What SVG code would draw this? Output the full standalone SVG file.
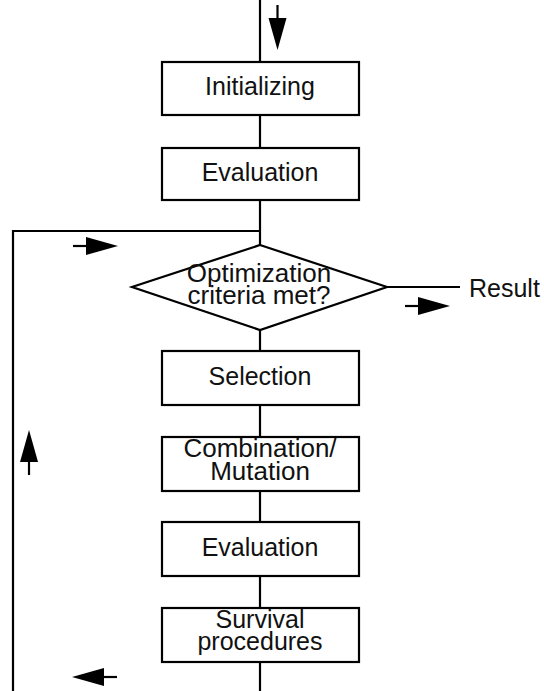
<svg xmlns="http://www.w3.org/2000/svg" xmlns:xlink="http://www.w3.org/1999/xlink" width="544" height="691" viewBox="0 0 544 691">
<style>
.box{fill:#fff;stroke:#000;stroke-width:2.2}
.ln{fill:none;stroke:#000;stroke-width:2.2}
.t{font-family:"Liberation Sans",Arial,sans-serif;font-size:25px;fill:#111;text-anchor:middle}
.w{font-size:26px}
.r{font-family:"Liberation Sans",Arial,sans-serif;font-size:25px;fill:#111}
</style>
<defs>
<g id="flow">
<line x1="-45" y1="0" x2="-30" y2="0" stroke="#000" stroke-width="2.2"/>
<path d="M0,0 L-32,-9 L-32,9 Z" fill="#000"/>
</g>
</defs>
<rect width="544" height="691" fill="#fff"/>
<g id="connectors">
<line class="ln" x1="260" y1="0" x2="260" y2="62"/>
<line class="ln" x1="260" y1="115" x2="260" y2="148"/>
<line class="ln" x1="260" y1="200" x2="260" y2="245"/>
<polyline class="ln" points="260,231 13,231 13,691"/>
<line class="ln" x1="260" y1="330" x2="260" y2="351"/>
<line class="ln" x1="387" y1="287" x2="460" y2="287"/>
<line class="ln" x1="260" y1="405" x2="260" y2="437"/>
<line class="ln" x1="260" y1="491" x2="260" y2="522"/>
<line class="ln" x1="260" y1="576" x2="260" y2="608"/>
<line class="ln" x1="260" y1="662" x2="260" y2="691"/>
<use xlink:href="#flow" href="#flow" transform="translate(277.5,50) rotate(90)"/>
<use xlink:href="#flow" href="#flow" transform="translate(118,246)"/>
<use xlink:href="#flow" href="#flow" transform="translate(450,306)"/>
<use xlink:href="#flow" href="#flow" transform="translate(29,430) rotate(-90)"/>
<use xlink:href="#flow" href="#flow" transform="translate(72,677) rotate(180)"/>
</g>
<g id="init">
<rect class="box" x="162" y="62" width="197" height="53"/>
<text class="t" x="260" y="95">Initializing</text>
</g>
<g id="eval1">
<rect class="box" x="162" y="148" width="197" height="52"/>
<text class="t" x="260" y="181">Evaluation</text>
</g>
<g id="decision">
<polygon class="box" points="260,245 387,287 260,330 132,287"/>
<text class="t w" x="259" y="282">Optimization</text>
<text class="t w" x="259" y="304">criteria met?</text>
</g>
<g id="result">
<text class="r" x="469" y="297">Result</text>
</g>
<g id="selection">
<rect class="box" x="162" y="351" width="197" height="54"/>
<text class="t" x="260" y="385">Selection</text>
</g>
<g id="combination">
<rect class="box" x="162" y="437" width="197" height="54"/>
<text class="t w" x="260" y="457">Combination/</text>
<text class="t w" x="260" y="480">Mutation</text>
</g>
<g id="eval2">
<rect class="box" x="162" y="522" width="197" height="54"/>
<text class="t" x="260" y="556">Evaluation</text>
</g>
<g id="survival">
<rect class="box" x="162" y="608" width="197" height="54"/>
<text class="t" x="260" y="628">Survival</text>
<text class="t" x="260" y="650">procedures</text>
</g>
</svg>
